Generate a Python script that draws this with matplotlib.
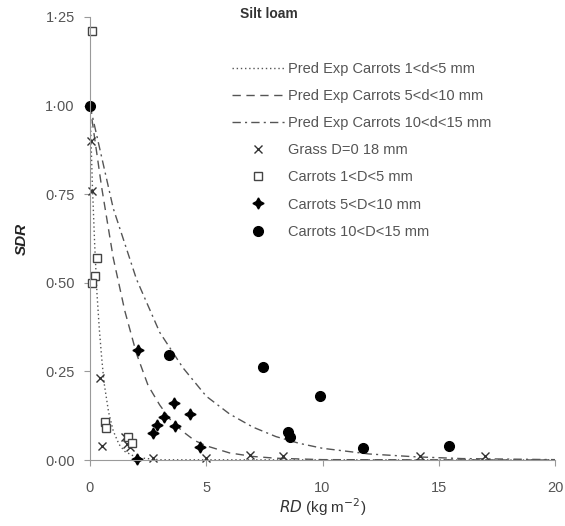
import numpy as np
import matplotlib
matplotlib.use("Agg")
import matplotlib.pyplot as plt
from matplotlib.ticker import FuncFormatter

matplotlib.rcParams.update({
    "font.family": "Liberation Sans",
    "axes.edgecolor": "#9a9a9a",
    "xtick.color": "#9a9a9a",
    "ytick.color": "#9a9a9a",
    "xtick.labelcolor": "#555555",
    "ytick.labelcolor": "#555555",
})

# predicted exponential curves
dot_x = [0, 0.1, 0.2, 0.3, 0.4, 0.5, 0.6, 0.8, 1.0, 1.25, 1.5, 2.0, 3.0, 20.0]
dot_y = [1.0, 0.78, 0.61, 0.47, 0.37, 0.29, 0.22, 0.135, 0.082, 0.044, 0.024, 0.007, 0.0006, 0.0]
dash_x = [0, 0.5, 1.0, 1.5, 2.0, 2.5, 3.0, 3.5, 4.0, 4.5, 5.0, 6.0, 7.0, 8.0, 10.0, 20.0]
dash_y = [1.0, 0.77, 0.57, 0.42, 0.30, 0.21, 0.155, 0.11, 0.08, 0.055, 0.04, 0.02, 0.01, 0.005, 0.001, 0.0]
dd_x = [0, 1, 2, 3, 4, 5, 6, 7, 8, 9, 10, 12, 14, 16, 20]
dd_y = [1.0, 0.71, 0.51, 0.36, 0.26, 0.18, 0.13, 0.093, 0.066, 0.047, 0.033, 0.017, 0.009, 0.004, 0.001]

# observations
grass_x = [0.05, 0.08, 0.43, 0.5, 1.5, 1.6, 1.7, 2.7, 5.0, 6.9, 8.3, 14.2, 17.0]
grass_y = [0.90, 0.76, 0.23, 0.04, 0.065, 0.045, 0.037, 0.005, 0.005, 0.015, 0.01, 0.01, 0.012]
c1_x = [0.1, 0.3, 0.2, 0.08, 0.65, 0.7, 1.65, 1.8]
c1_y = [1.21, 0.57, 0.52, 0.50, 0.107, 0.09, 0.065, 0.048]
c5_x = [2.07, 3.6, 4.3, 3.2, 3.65, 2.9, 2.7, 4.73, 2.0]
c5_y = [0.31, 0.16, 0.13, 0.12, 0.097, 0.10, 0.076, 0.037, 0.004]
c10_x = [0.02, 3.4, 7.44, 9.9, 8.5, 8.6, 11.75, 15.45]
c10_y = [1.00, 0.297, 0.263, 0.18, 0.08, 0.065, 0.034, 0.04]

labels = ["Pred Exp Carrots 1<d<5 mm", "Pred Exp Carrots 5<d<10 mm",
          "Pred Exp Carrots 10<d<15 mm", "Grass D=0 18 mm",
          "Carrots 1<D<5 mm", "Carrots 5<D<10 mm", "Carrots 10<D<15 mm"]

fig = plt.figure(figsize=(5.65, 5.26), dpi=100)
ax = fig.add_axes([90 / 565, 66 / 526, 465 / 565, 443 / 526])

ax.plot(dot_x, dot_y, color="#555555", ls=(0, (1, 2)), lw=1.0, label=labels[0])
ax.plot(dash_x, dash_y, color="#555555", ls=(0, (6, 4)), lw=1.0, label=labels[1])
ax.plot(dd_x, dd_y, color="#555555", ls=(0, (6, 3, 1.5, 3)), lw=1.0, label=labels[2])
ax.plot(grass_x, grass_y, ls="none", marker="x", ms=5.5, mec="#333333", mew=1.0,
        label=labels[3], clip_on=False)
ax.plot(c1_x, c1_y, ls="none", marker="s", ms=5.5, mfc="white", mec="#444444", mew=1.0,
        label=labels[4], clip_on=False)
ax.plot(c5_x, c5_y, ls="none", marker=(4, 1, 0), ms=8, color="black",
        label=labels[5], clip_on=False)
ax.plot(c10_x, c10_y, ls="none", marker="o", ms=7, color="black",
        label=labels[6], clip_on=False)

ax.set_xlim(0, 20)
ax.set_ylim(0, 1.25)
ax.set_xticks([0, 5, 10, 15, 20])
ax.set_yticks([0, 0.25, 0.5, 0.75, 1.0, 1.25])
ax.yaxis.set_major_formatter(FuncFormatter(lambda v, p: f"{v:.2f}".replace(".", "·")))
ax.tick_params(labelsize=10.5, length=4, direction="out")
ax.tick_params(axis="x", pad=11)
ax.tick_params(axis="y", pad=7)
for s in ("top", "right"):
    ax.spines[s].set_visible(False)

ax.set_xlabel("$RD$ (kg m$^{-2}$)", fontsize=11, color="#333333", labelpad=1)
ax.set_ylabel("SDR", fontsize=11, fontweight="bold", fontstyle="italic",
              color="#222222", labelpad=12)

leg = ax.legend(loc="upper left", bbox_to_anchor=(0.29, 0.915), frameon=False,
                fontsize=10.5, handlelength=3.6, labelspacing=0.9, borderpad=0,
                numpoints=1, handletextpad=0.25)
for t in leg.get_texts():
    t.set_color("#555555")

fig.text(240 / 565, 1 - 14 / 526, "Silt loam", fontsize=10, fontweight="bold",
         color="#333333", va="center")

fig.savefig("out.png", dpi=100)
